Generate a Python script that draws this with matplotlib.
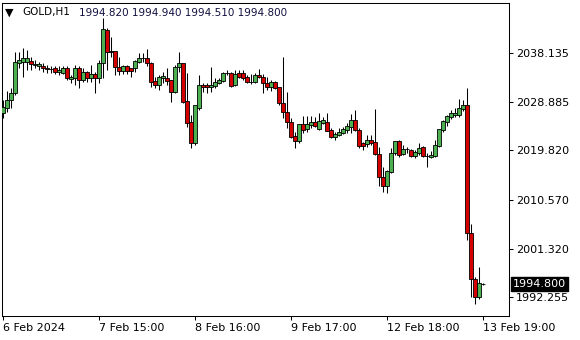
import numpy as np
import matplotlib
matplotlib.use('Agg')
import matplotlib.pyplot as plt
from matplotlib.transforms import blended_transform_factory

# GOLD H1 bars (oldest first)
opens = [2026.81, 2027.74, 2029.24, 2030.55, 2036.17, 2036.36, 2036.36, 2036.54, 2035.80, 2035.61,
         2035.61, 2035.23, 2035.05, 2035.23, 2034.48, 2034.30, 2035.23, 2033.17, 2033.36, 2035.23,
         2032.99, 2034.48, 2033.36, 2034.11, 2033.36, 2036.17, 2042.35, 2038.42, 2038.42, 2035.42,
         2034.67, 2035.61, 2035.23, 2035.23, 2036.36, 2037.11, 2037.11, 2036.17, 2032.80, 2032.05,
         2033.36, 2033.36, 2032.99, 2030.74, 2035.42, 2036.17, 2029.05, 2025.12, 2021.19, 2027.74,
         2032.05, 2032.05, 2031.67, 2031.86, 2032.42, 2032.80, 2034.30, 2034.30, 2032.05, 2034.30,
         2034.30, 2033.55, 2032.61, 2032.61, 2033.92, 2033.55, 2032.42, 2031.67, 2032.61, 2031.67,
         2028.68, 2026.99, 2025.12, 2022.50, 2021.56, 2024.74, 2023.81, 2024.56, 2025.12, 2023.81,
         2024.93, 2025.12, 2023.62, 2022.31, 2022.68, 2023.06, 2023.62, 2024.18, 2025.49, 2023.62,
         2021.19, 2021.00, 2021.75, 2021.37, 2019.13, 2014.82, 2013.13, 2015.75, 2019.31, 2021.56,
         2019.13, 2020.06, 2019.87, 2018.75, 2019.31, 2020.44, 2018.75, 2018.56, 2018.75, 2020.62,
         2023.62, 2025.12, 2026.06, 2026.43, 2026.43, 2027.55, 2028.30, 2004.33, 1995.71, 1992.34,
         1994.82]
closes = [2027.93, 2029.24, 2030.55, 2036.36, 2036.73, 2037.11, 2037.11, 2035.98, 2035.98, 2035.98,
          2035.23, 2035.05, 2035.00, 2034.48, 2034.86, 2035.23, 2033.36, 2033.55, 2035.23, 2032.99,
          2034.48, 2033.36, 2034.11, 2033.36, 2036.17, 2042.54, 2038.23, 2038.23, 2035.42, 2034.67,
          2035.61, 2034.67, 2034.67, 2036.54, 2037.11, 2037.05, 2036.17, 2032.61, 2032.05, 2033.55,
          2033.74, 2032.80, 2030.74, 2035.42, 2036.17, 2028.87, 2024.93, 2021.19, 2028.30, 2032.05,
          2031.67, 2031.67, 2032.05, 2032.61, 2032.99, 2034.30, 2034.25, 2031.86, 2034.11, 2033.55,
          2033.36, 2032.61, 2032.55, 2033.92, 2033.55, 2032.42, 2031.67, 2032.61, 2031.49, 2028.68,
          2026.99, 2025.12, 2022.31, 2021.56, 2024.74, 2023.62, 2024.74, 2025.12, 2024.37, 2025.31,
          2025.49, 2023.43, 2022.31, 2022.87, 2023.25, 2023.81, 2024.37, 2025.49, 2023.62, 2020.62,
          2020.62, 2021.75, 2021.19, 2019.13, 2014.82, 2013.13, 2015.94, 2019.31, 2021.56, 2018.94,
          2020.06, 2020.00, 2018.75, 2019.50, 2020.25, 2018.75, 2018.70, 2018.94, 2020.81, 2023.81,
          2025.31, 2026.24, 2026.81, 2026.81, 2027.74, 2028.30, 2004.33, 1995.71, 1992.34, 1994.96,
          1994.80]
highs = [2029.24, 2030.93, 2031.49, 2038.23, 2038.23, 2038.98, 2038.60, 2037.29, 2036.73, 2036.36,
         2036.17, 2035.80, 2035.61, 2035.61, 2035.61, 2035.61, 2035.61, 2033.92, 2035.80, 2035.61,
         2035.23, 2034.67, 2035.80, 2034.48, 2036.73, 2044.60, 2042.73, 2041.04, 2038.42, 2037.29,
         2035.80, 2035.80, 2035.23, 2036.73, 2038.04, 2038.04, 2038.79, 2036.36, 2033.55, 2033.92,
         2034.48, 2035.23, 2032.99, 2035.80, 2038.23, 2036.17, 2034.30, 2026.43, 2028.30, 2033.92,
         2032.42, 2032.42, 2035.42, 2033.36, 2033.36, 2034.48, 2034.86, 2034.48, 2034.86, 2034.86,
         2034.86, 2033.92, 2034.11, 2034.30, 2035.05, 2034.11, 2033.55, 2032.99, 2032.80, 2031.67,
         2037.29, 2030.74, 2025.87, 2023.25, 2024.74, 2026.24, 2026.24, 2026.24, 2026.06, 2026.81,
         2026.06, 2026.81, 2024.00, 2023.25, 2024.00, 2024.18, 2024.93, 2026.62, 2027.37, 2024.00,
         2021.37, 2022.68, 2022.68, 2027.55, 2020.44, 2016.69, 2016.13, 2020.25, 2021.56, 2021.75,
         2020.81, 2020.44, 2020.06, 2019.87, 2021.19, 2020.62, 2019.31, 2019.69, 2021.75, 2023.81,
         2025.49, 2026.43, 2027.37, 2027.74, 2029.43, 2029.24, 2031.49, 2006.01, 1996.09, 1997.96,
         1994.94]
lows = [2025.87, 2026.99, 2027.74, 2030.18, 2035.23, 2033.55, 2034.86, 2034.86, 2035.23, 2034.86,
        2034.48, 2034.30, 2034.30, 2034.11, 2033.92, 2034.11, 2032.99, 2032.42, 2032.05, 2031.49,
        2032.61, 2032.61, 2032.61, 2030.55, 2032.42, 2033.36, 2034.86, 2037.29, 2033.92, 2033.92,
        2034.11, 2034.11, 2033.55, 2034.48, 2036.17, 2036.36, 2035.61, 2031.67, 2031.49, 2031.11,
        2032.42, 2032.05, 2028.87, 2030.55, 2034.48, 2028.68, 2024.18, 2020.25, 2020.81, 2027.37,
        2030.74, 2030.55, 2030.74, 2031.49, 2032.24, 2032.61, 2033.92, 2031.67, 2031.86, 2033.36,
        2032.99, 2032.42, 2032.24, 2032.42, 2033.36, 2030.55, 2031.11, 2030.93, 2031.30, 2028.30,
        2025.87, 2024.00, 2022.12, 2020.25, 2021.19, 2023.06, 2023.25, 2024.00, 2024.18, 2023.62,
        2024.74, 2023.40, 2022.12, 2021.75, 2022.50, 2022.87, 2023.06, 2023.06, 2023.43, 2020.25,
        2019.87, 2020.44, 2020.81, 2018.94, 2013.13, 2012.01, 2011.82, 2015.57, 2018.94, 2018.56,
        2018.94, 2019.31, 2018.56, 2018.38, 2018.94, 2018.56, 2016.69, 2018.38, 2018.56, 2020.44,
        2023.25, 2024.37, 2025.68, 2026.06, 2026.06, 2027.18, 2003.02, 1992.34, 1991.03, 1991.97,
        1994.51]

time_labels = ['6 Feb 2024', '7 Feb 15:00', '8 Feb 16:00', '9 Feb 17:00', '12 Feb 18:00', '13 Feb 19:00']
time_label_bars = [0, 24, 48, 72, 96, 120]
price_ticks = [2038.135, 2028.885, 2019.820, 2010.570, 2001.320, 1992.255]
symbol = 'GOLD,H1'

o = np.array(opens)
c = np.array(closes)
h = np.array(highs)
l = np.array(lows)
idx = np.arange(len(o))

up_color = '#4cb050'
down_color = '#d40000'

fig = plt.figure(figsize=(5.8, 3.4), dpi=100)
ax = fig.add_axes([2 / 580, 1 - 316 / 340, 507 / 580, 313 / 340])

# wicks then bodies
ax.vlines(idx, l, h, color='black', linewidth=0.75, zorder=2)
colors = np.where(c >= o, up_color, down_color)
bottoms = np.minimum(o, c)
heights = np.abs(c - o)
ax.bar(idx, heights, bottom=bottoms, width=0.8, color=colors,
       edgecolor='black', linewidth=0.6, zorder=3)

ax.set_xlim(-0.25, 126.5)
ax.set_ylim(1988.78, 2047.41)

ax.set_xticks(time_label_bars)
ax.set_xticklabels(time_labels)
for lab in ax.get_xticklabels():
    lab.set_horizontalalignment('left')
ax.set_yticks(price_ticks)
ax.set_yticklabels(['%.3f' % p for p in price_ticks])
ax.yaxis.tick_right()
ax.tick_params(axis='both', direction='out', length=3, width=0.75, labelsize=8,
               colors='black')
ax.tick_params(axis='y', pad=2)
ax.tick_params(axis='x', pad=2)
for s in ax.spines.values():
    s.set_linewidth(0.75)
    s.set_color('black')

# current price marker
blend = blended_transform_factory(ax.transAxes, ax.transData)
ax.annotate('%.3f' % closes[-1], xy=(1, closes[-1]), xycoords=blend,
            xytext=(4, 0), textcoords='offset pixels', ha='left', va='center',
            fontsize=8, color='white', annotation_clip=False,
            bbox=dict(boxstyle='square,pad=0.15', facecolor='black', edgecolor='black'))

# header
fig.text(5 / 580, 1 - 12.5 / 340, '\u25BC', fontsize=8, va='center', ha='left')
fig.text(22 / 580, 1 - 12.5 / 340, symbol, fontsize=7.5, va='center', ha='left')
fig.text(79 / 580, 1 - 12.5 / 340,
         '%.3f %.3f %.3f %.3f' % (opens[-1], highs[-1], lows[-1], closes[-1]),
         fontsize=7.5, va='center', ha='left', color='#101040')

fig.savefig('out.png', dpi=100)
